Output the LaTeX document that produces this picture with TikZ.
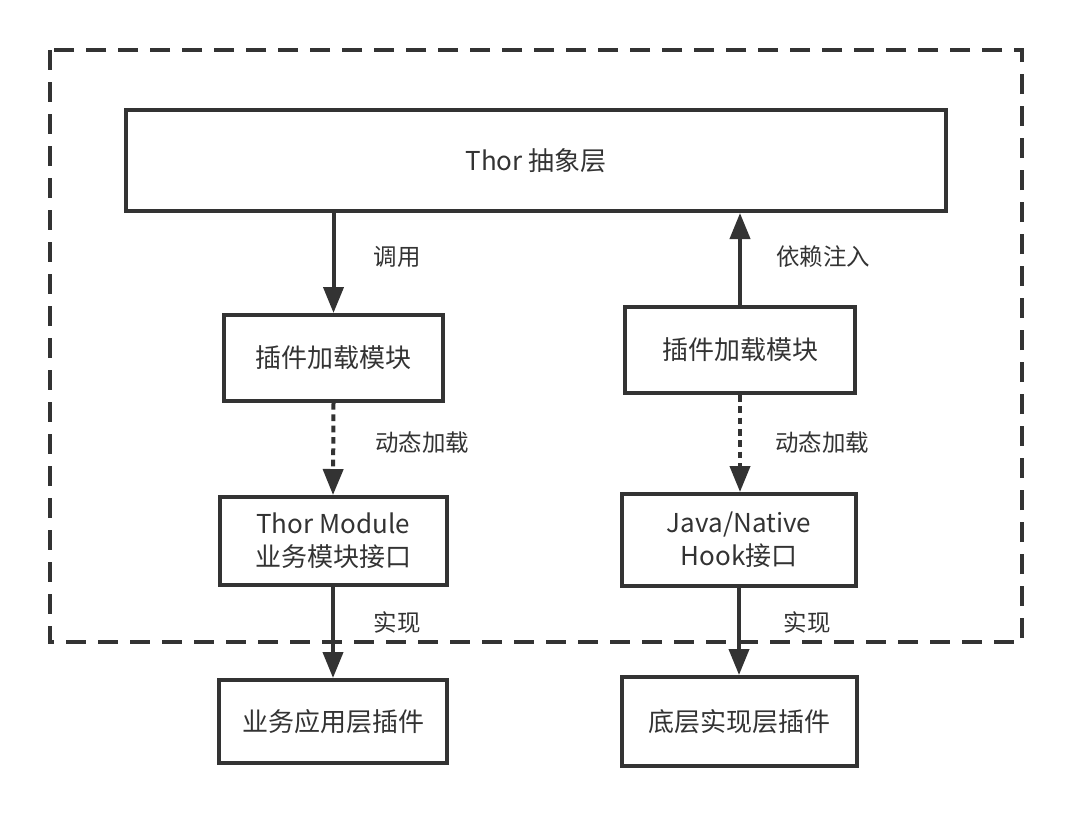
\documentclass[tikz,border=0pt]{standalone}
\usepackage{fontspec}
\setmainfont{Noto Sans CJK SC}
\usetikzlibrary{arrows.meta}
\definecolor{ink}{HTML}{333333}
\tikzset{
  box/.style={draw=ink, line width=3pt, rectangle, inner sep=0pt, align=center,
    text=ink, font=\fontsize{19.5}{24.75}\selectfont},
  lbl/.style={text=ink, inner sep=0pt, font=\fontsize{17.6}{20}\selectfont},
  conn/.style={draw=ink, line width=3pt, -{Triangle[length=19.5pt,width=15pt]}},
  dotconn/.style={conn, dash pattern=on 5pt off 3.5pt},
  frame/.style={draw=ink, line width=3pt, dash pattern=on 15pt off 9pt}
}
\begin{document}
\begin{tikzpicture}[x=0.75pt,y=-0.75pt]
\useasboundingbox (0,0) rectangle (1074,819);
\draw[frame] (50,50) rectangle (1022,642);

\node[box, minimum width=820*0.75pt, minimum height=101*0.75pt] (thor) at (536,160.5) {Thor 抽象层};

\node[box, minimum width=219*0.75pt, minimum height=86*0.75pt] (l1) at (333.5,358) {插件加载模块};
\node[box, minimum width=227*0.75pt, minimum height=88*0.75pt] (l2) at (333,541) {Thor Module\\业务模块接口};
\node[box, minimum width=228*0.75pt, minimum height=83*0.75pt] (l3) at (333,721.5) {业务应用层插件};

\node[box, minimum width=230*0.75pt, minimum height=86*0.75pt] (r1) at (740,350) {插件加载模块};
\node[box, minimum width=234*0.75pt, minimum height=92*0.75pt] (r2) at (739,540) {Java/Native\\Hook接口};
\node[box, minimum width=235*0.75pt, minimum height=89*0.75pt] (r3) at (739.5,721.5) {底层实现层插件};

\draw[conn] (thor.south -| l1.north) -- (l1.north);
\draw[dotconn] (l1.south) -- (l2.north);
\draw[conn] (l2.south) -- (l3.north);

\draw[conn] (r1.north) -- (r1.north |- thor.south);
\draw[dotconn] (r1.south) -- (r1.south |- r2.north);
\draw[conn] (r2.south) -- (r2.south |- r3.north);

\node[lbl] (t1) at (397,257) {调用};
\node[lbl] (t2) at (422,443) {动态加载};
\node[lbl] (t3) at (397,623) {实现};
\node[lbl] (t4) at (823,257) {依赖注入};
\node[lbl] (t5) at (822,443) {动态加载};
\node[lbl] (t6) at (807,623) {实现};
\end{tikzpicture}
\end{document}
